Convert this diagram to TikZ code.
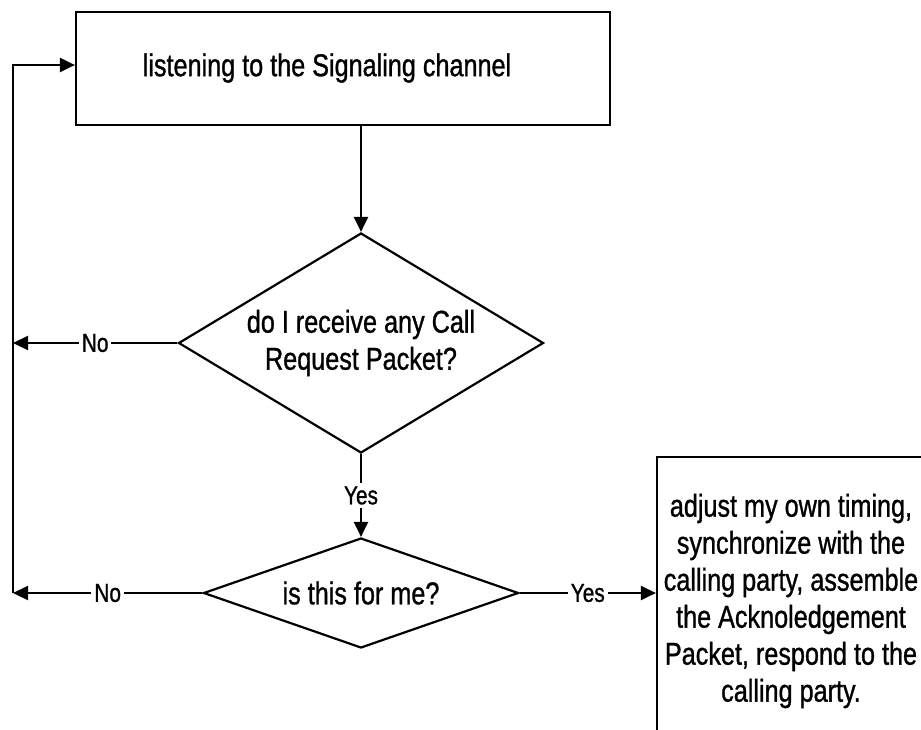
\documentclass[tikz,border=0pt]{standalone}
\usepackage{fontspec}
\setmainfont[FakeStretch=0.8,FakeBold=1]{Liberation Sans}
\usetikzlibrary{shapes.geometric,arrows.meta}

\begin{document}
\begin{tikzpicture}[x=1pt,y=-1pt,line width=2.2pt,
	every node/.style={font=\fontsize{31.5}{37}\selectfont},
	box/.style={draw,rectangle,inner sep=0pt},
	decision/.style={draw,diamond,inner sep=0pt,align=center},
	flow/.style={-{Triangle[length=15pt,width=14pt]}},
	tag/.style={fill=white,inner sep=3pt,font=\fontsize{26}{28}\selectfont}]
	\useasboundingbox (0,0) rectangle (921,729);
	\clip (0,0) rectangle (921,729);
	\node[box,minimum width=534pt,minimum height=113pt] (listen) at (343,68.5) {};
	\node (listentext) at (327,68) {listening to the Signaling channel};
	\node[decision,minimum width=365pt,minimum height=220pt,aspect=1.66] (callreq) at (361,343) {do I receive any Call\\Request Packet?};
	\node[decision,minimum width=315pt,minimum height=110pt,aspect=2.86] (forme) at (361,593) {is this for me?};
	\node[box,minimum width=268pt,minimum height=288pt,align=center] (adjust) at (791,601) {adjust my own timing,\\synchronize with the\\calling party, assemble\\the Acknoledgement\\Packet, respond to the\\calling party.};
	\coordinate (backtop) at (13,65);
	\coordinate (back1) at (13,343);
	\coordinate (back2) at (13,593);
	\draw[flow] (callreq.north |- listen.south) -- (callreq.north);
	\draw[flow] (callreq.south) -- node[tag] {Yes} (forme.north);
	\draw[flow] (callreq.west) -- node[tag] {No} (back1);
	\draw[flow] (forme.west) -- node[tag] {No} (back2);
	\draw[flow] (back2) -- (backtop) -- (backtop -| listen.west);
	\draw[flow] (forme.east) -- node[tag] {Yes} (forme.east -| adjust.west);
\end{tikzpicture}
\end{document}
